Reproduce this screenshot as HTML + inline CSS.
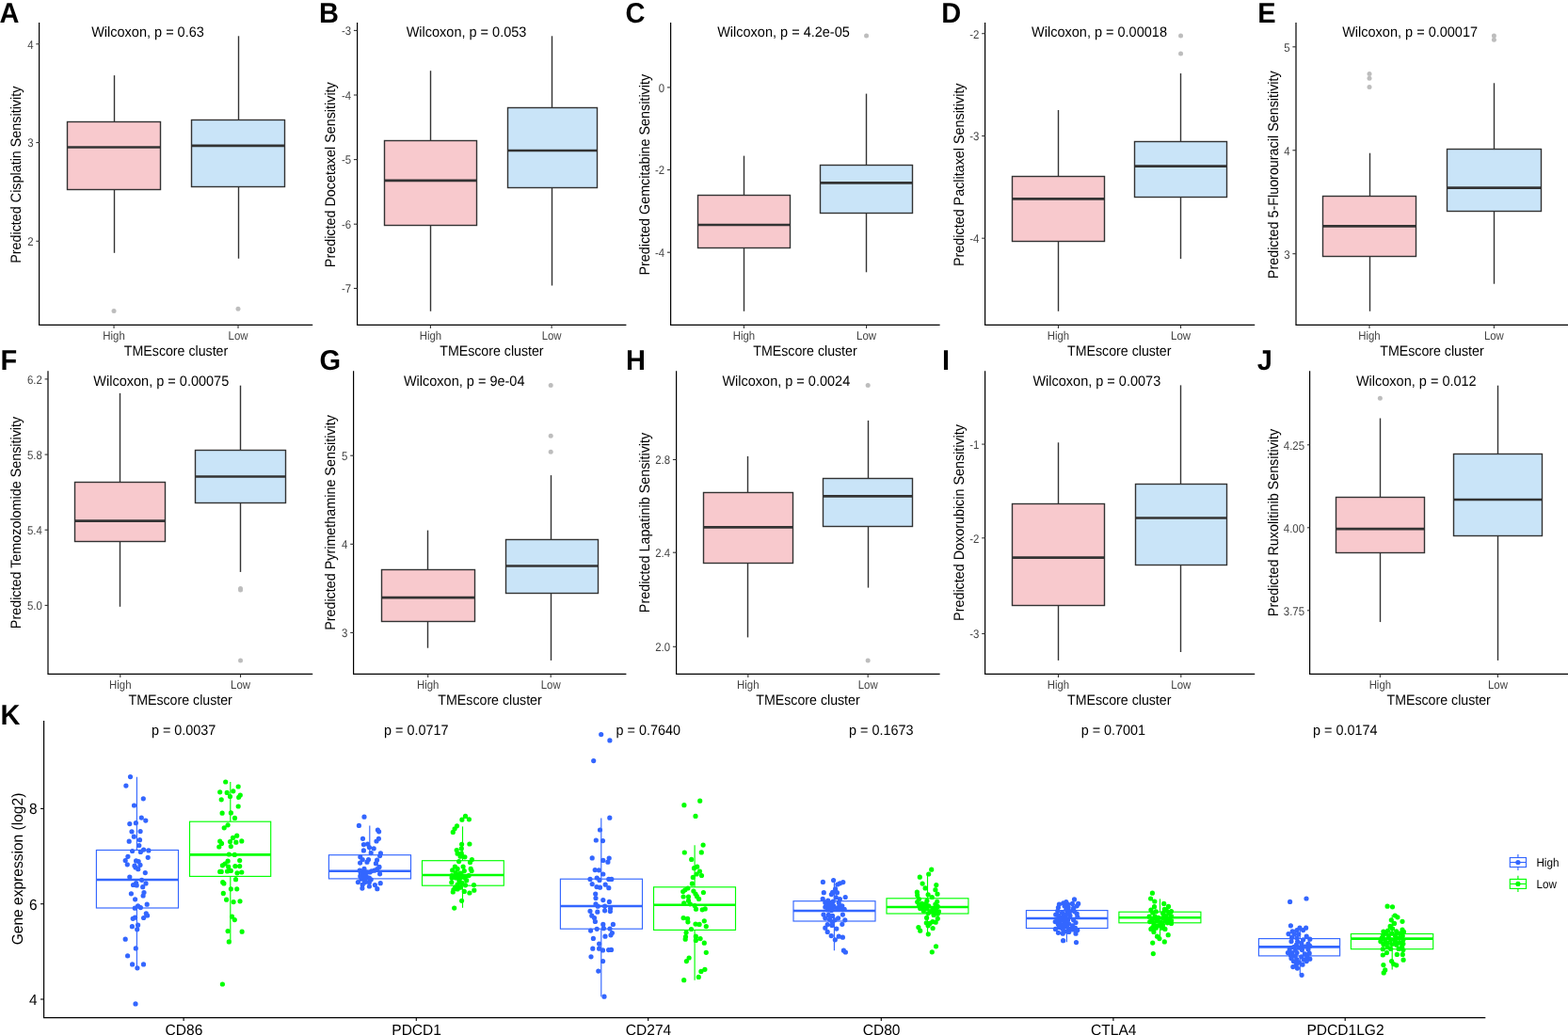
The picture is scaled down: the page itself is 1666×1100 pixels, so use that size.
<!DOCTYPE html>
<html lang="en">
<head>
<meta charset="utf-8">
<title>Predicted drug sensitivity and immune checkpoint expression by TMEscore cluster</title>
<style>
html,body{margin:0;padding:0;background:#fff;}
body{width:1666px;height:1100px;overflow:hidden;}
svg{display:block;font-family:"Liberation Sans", sans-serif;text-rendering:geometricPrecision;}
.tk{font-size:11.4px;fill:#424242;}
.at{font-size:14.2px;fill:#000;}
.yt{font-size:14.35px;fill:#000;}
.st{font-size:14.5px;fill:#000;}
.pl{font-size:29px;font-weight:bold;fill:#000;}
.kt{font-size:15.4px;fill:#000;text-rendering:geometricPrecision;}
.ky{font-size:15.55px;fill:#000;text-rendering:geometricPrecision;}
.kg{font-size:15.55px;fill:#000;text-rendering:geometricPrecision;}
.kp{font-size:14.4px;fill:#000;}
.lg{font-size:11.7px;fill:#000;}
</style>
</head>
<body>
<svg width="1666" height="1100" viewBox="0 0 1666 1100">
<rect width="1666" height="1100" fill="#fff"/>
<g>
<line x1="121.5" y1="80.1" x2="121.5" y2="129.5" stroke="#333333" stroke-width="1.4"/>
<line x1="121.5" y1="201.5" x2="121.5" y2="268.8" stroke="#333333" stroke-width="1.4"/>
<rect x="71.5" y="129.5" width="99" height="72" fill="#F8C9CD" stroke="#333333" stroke-width="1.4"/>
<line x1="71.5" y1="156.5" x2="170.5" y2="156.5" stroke="#333333" stroke-width="2.7"/>
<circle cx="121.04" cy="330.4" r="2.5" fill="#BDBDBD"/>
<line x1="253.5" y1="38.3" x2="253.5" y2="127.5" stroke="#333333" stroke-width="1.4"/>
<line x1="253.5" y1="198.5" x2="253.5" y2="274.8" stroke="#333333" stroke-width="1.4"/>
<rect x="203.5" y="127.5" width="99" height="71" fill="#C9E4F8" stroke="#333333" stroke-width="1.4"/>
<line x1="203.5" y1="154.9" x2="302.5" y2="154.9" stroke="#333333" stroke-width="2.7"/>
<circle cx="253.01" cy="328.3" r="2.5" fill="#BDBDBD"/>
<path d="M41.6 24V345.45H332.2" fill="none" stroke="#000" stroke-width="1.2"/>
<line x1="38.35" y1="46.8" x2="41.85" y2="46.8" stroke="#333" stroke-width="1.1"/>
<text transform="translate(35.55 51.65) scale(1 1.11)" text-anchor="end" class="tk">4</text>
<line x1="38.35" y1="151.55" x2="41.85" y2="151.55" stroke="#333" stroke-width="1.1"/>
<text transform="translate(35.55 156.4) scale(1 1.11)" text-anchor="end" class="tk">3</text>
<line x1="38.35" y1="256.3" x2="41.85" y2="256.3" stroke="#333" stroke-width="1.1"/>
<text transform="translate(35.55 261.15) scale(1 1.11)" text-anchor="end" class="tk">2</text>
<line x1="121.04" y1="345.45" x2="121.04" y2="348.95" stroke="#333" stroke-width="1.1"/>
<text transform="translate(121.04 361) scale(1 1.11)" text-anchor="middle" class="tk">High</text>
<line x1="253.01" y1="345.45" x2="253.01" y2="348.95" stroke="#333" stroke-width="1.1"/>
<text transform="translate(253.01 361) scale(1 1.11)" text-anchor="middle" class="tk">Low</text>
<text transform="translate(187.03 377.8) scale(1 1.075)" text-anchor="middle" class="at">TMEscore cluster</text>
<text transform="translate(22.1 185.72) rotate(-90) scale(1 1.065)" text-anchor="middle" class="yt">Predicted Cisplatin Sensitivity</text>
<text transform="translate(157 39) scale(1 1.05)" text-anchor="middle" class="st">Wilcoxon, p = 0.63</text>
<text transform="translate(-0.6 24.4) scale(1 1.04)" class="pl">A</text>
</g>
<g>
<line x1="457.5" y1="75.2" x2="457.5" y2="149.5" stroke="#333333" stroke-width="1.4"/>
<line x1="457.5" y1="239.5" x2="457.5" y2="330.8" stroke="#333333" stroke-width="1.4"/>
<rect x="408.5" y="149.5" width="98" height="90" fill="#F8C9CD" stroke="#333333" stroke-width="1.4"/>
<line x1="408.5" y1="191.8" x2="506.5" y2="191.8" stroke="#333333" stroke-width="2.7"/>
<line x1="586.5" y1="38.3" x2="586.5" y2="114.5" stroke="#333333" stroke-width="1.4"/>
<line x1="586.5" y1="199.5" x2="586.5" y2="303.5" stroke="#333333" stroke-width="1.4"/>
<rect x="539.5" y="114.5" width="95" height="85" fill="#C9E4F8" stroke="#333333" stroke-width="1.4"/>
<line x1="539.5" y1="160" x2="634.5" y2="160" stroke="#333333" stroke-width="2.7"/>
<path d="M379.6 24V345.45H665.4" fill="none" stroke="#000" stroke-width="1.2"/>
<line x1="375.9" y1="32.4" x2="379.4" y2="32.4" stroke="#333" stroke-width="1.1"/>
<text transform="translate(373.1 37.25) scale(1 1.11)" text-anchor="end" class="tk">-3</text>
<line x1="375.9" y1="101" x2="379.4" y2="101" stroke="#333" stroke-width="1.1"/>
<text transform="translate(373.1 105.85) scale(1 1.11)" text-anchor="end" class="tk">-4</text>
<line x1="375.9" y1="169.6" x2="379.4" y2="169.6" stroke="#333" stroke-width="1.1"/>
<text transform="translate(373.1 174.45) scale(1 1.11)" text-anchor="end" class="tk">-5</text>
<line x1="375.9" y1="238.2" x2="379.4" y2="238.2" stroke="#333" stroke-width="1.1"/>
<text transform="translate(373.1 243.05) scale(1 1.11)" text-anchor="end" class="tk">-6</text>
<line x1="375.9" y1="306.5" x2="379.4" y2="306.5" stroke="#333" stroke-width="1.1"/>
<text transform="translate(373.1 311.35) scale(1 1.11)" text-anchor="end" class="tk">-7</text>
<line x1="457.4" y1="345.45" x2="457.4" y2="348.95" stroke="#333" stroke-width="1.1"/>
<text transform="translate(457.4 361) scale(1 1.11)" text-anchor="middle" class="tk">High</text>
<line x1="586.1" y1="345.45" x2="586.1" y2="348.95" stroke="#333" stroke-width="1.1"/>
<text transform="translate(586.1 361) scale(1 1.11)" text-anchor="middle" class="tk">Low</text>
<text transform="translate(522.4 377.8) scale(1 1.075)" text-anchor="middle" class="at">TMEscore cluster</text>
<text transform="translate(355.9 185.72) rotate(-90) scale(1 1.065)" text-anchor="middle" class="yt">Predicted Docetaxel Sensitivity</text>
<text transform="translate(495.5 39) scale(1 1.05)" text-anchor="middle" class="st">Wilcoxon, p = 0.053</text>
<text transform="translate(338.88 24.4) scale(1 1.04)" class="pl">B</text>
</g>
<g>
<line x1="790.5" y1="165.6" x2="790.5" y2="207.5" stroke="#333333" stroke-width="1.4"/>
<line x1="790.5" y1="263.5" x2="790.5" y2="330.8" stroke="#333333" stroke-width="1.4"/>
<rect x="741.5" y="207.5" width="98" height="56" fill="#F8C9CD" stroke="#333333" stroke-width="1.4"/>
<line x1="741.5" y1="239" x2="839.5" y2="239" stroke="#333333" stroke-width="2.7"/>
<line x1="920.5" y1="99.6" x2="920.5" y2="175.5" stroke="#333333" stroke-width="1.4"/>
<line x1="920.5" y1="226.5" x2="920.5" y2="289.3" stroke="#333333" stroke-width="1.4"/>
<rect x="871.5" y="175.5" width="98" height="51" fill="#C9E4F8" stroke="#333333" stroke-width="1.4"/>
<line x1="871.5" y1="194.3" x2="969.5" y2="194.3" stroke="#333333" stroke-width="2.7"/>
<circle cx="920.55" cy="37.9" r="2.5" fill="#BDBDBD"/>
<path d="M712.6 24V345.45H998.6" fill="none" stroke="#000" stroke-width="1.2"/>
<line x1="708.9" y1="92.9" x2="712.4" y2="92.9" stroke="#333" stroke-width="1.1"/>
<text transform="translate(706.1 97.75) scale(1 1.11)" text-anchor="end" class="tk">0</text>
<line x1="708.9" y1="180.55" x2="712.4" y2="180.55" stroke="#333" stroke-width="1.1"/>
<text transform="translate(706.1 185.4) scale(1 1.11)" text-anchor="end" class="tk">-2</text>
<line x1="708.9" y1="268.2" x2="712.4" y2="268.2" stroke="#333" stroke-width="1.1"/>
<text transform="translate(706.1 273.05) scale(1 1.11)" text-anchor="end" class="tk">-4</text>
<line x1="790.45" y1="345.45" x2="790.45" y2="348.95" stroke="#333" stroke-width="1.1"/>
<text transform="translate(790.45 361) scale(1 1.11)" text-anchor="middle" class="tk">High</text>
<line x1="920.55" y1="345.45" x2="920.55" y2="348.95" stroke="#333" stroke-width="1.1"/>
<text transform="translate(920.55 361) scale(1 1.11)" text-anchor="middle" class="tk">Low</text>
<text transform="translate(855.5 377.8) scale(1 1.075)" text-anchor="middle" class="at">TMEscore cluster</text>
<text transform="translate(689.6 185.72) rotate(-90) scale(1 1.065)" text-anchor="middle" class="yt">Predicted Gemcitabine Sensitivity</text>
<text transform="translate(832.5 39) scale(1 1.05)" text-anchor="middle" class="st">Wilcoxon, p = 4.2e-05</text>
<text transform="translate(664.41 24.4) scale(1 1.04)" class="pl">C</text>
</g>
<g>
<line x1="1124.5" y1="117" x2="1124.5" y2="187.5" stroke="#333333" stroke-width="1.4"/>
<line x1="1124.5" y1="256.5" x2="1124.5" y2="330.8" stroke="#333333" stroke-width="1.4"/>
<rect x="1075.5" y="187.5" width="98" height="69" fill="#F8C9CD" stroke="#333333" stroke-width="1.4"/>
<line x1="1075.5" y1="211.3" x2="1173.5" y2="211.3" stroke="#333333" stroke-width="2.7"/>
<line x1="1254.5" y1="78" x2="1254.5" y2="150.5" stroke="#333333" stroke-width="1.4"/>
<line x1="1254.5" y1="209.5" x2="1254.5" y2="275.1" stroke="#333333" stroke-width="1.4"/>
<rect x="1205.5" y="150.5" width="98" height="59" fill="#C9E4F8" stroke="#333333" stroke-width="1.4"/>
<line x1="1205.5" y1="176.7" x2="1303.5" y2="176.7" stroke="#333333" stroke-width="2.7"/>
<circle cx="1254.55" cy="37.9" r="2.5" fill="#BDBDBD"/>
<circle cx="1254.55" cy="57.1" r="2.5" fill="#BDBDBD"/>
<path d="M1046.6 24V345.45H1333.2" fill="none" stroke="#000" stroke-width="1.2"/>
<line x1="1043.2" y1="35.7" x2="1046.7" y2="35.7" stroke="#333" stroke-width="1.1"/>
<text transform="translate(1040.4 40.55) scale(1 1.11)" text-anchor="end" class="tk">-2</text>
<line x1="1043.2" y1="144.45" x2="1046.7" y2="144.45" stroke="#333" stroke-width="1.1"/>
<text transform="translate(1040.4 149.3) scale(1 1.11)" text-anchor="end" class="tk">-3</text>
<line x1="1043.2" y1="253.2" x2="1046.7" y2="253.2" stroke="#333" stroke-width="1.1"/>
<text transform="translate(1040.4 258.05) scale(1 1.11)" text-anchor="end" class="tk">-4</text>
<line x1="1124.45" y1="345.45" x2="1124.45" y2="348.95" stroke="#333" stroke-width="1.1"/>
<text transform="translate(1124.45 361) scale(1 1.11)" text-anchor="middle" class="tk">High</text>
<line x1="1254.55" y1="345.45" x2="1254.55" y2="348.95" stroke="#333" stroke-width="1.1"/>
<text transform="translate(1254.55 361) scale(1 1.11)" text-anchor="middle" class="tk">Low</text>
<text transform="translate(1189.25 377.8) scale(1 1.075)" text-anchor="middle" class="at">TMEscore cluster</text>
<text transform="translate(1023.6 185.72) rotate(-90) scale(1 1.065)" text-anchor="middle" class="yt">Predicted Paclitaxel Sensitivity</text>
<text transform="translate(1168 39) scale(1 1.05)" text-anchor="middle" class="st">Wilcoxon, p = 0.00018</text>
<text transform="translate(1000.26 24.4) scale(1 1.04)" class="pl">D</text>
</g>
<g>
<line x1="1455.5" y1="162.7" x2="1455.5" y2="208.5" stroke="#333333" stroke-width="1.4"/>
<line x1="1455.5" y1="272.5" x2="1455.5" y2="330.8" stroke="#333333" stroke-width="1.4"/>
<rect x="1405.5" y="208.5" width="99" height="64" fill="#F8C9CD" stroke="#333333" stroke-width="1.4"/>
<line x1="1405.5" y1="240.3" x2="1504.5" y2="240.3" stroke="#333333" stroke-width="2.7"/>
<circle cx="1455" cy="78.4" r="2.5" fill="#BDBDBD"/>
<circle cx="1455" cy="83.3" r="2.5" fill="#BDBDBD"/>
<circle cx="1455" cy="92.5" r="2.5" fill="#BDBDBD"/>
<line x1="1587.5" y1="88.3" x2="1587.5" y2="158.5" stroke="#333333" stroke-width="1.4"/>
<line x1="1587.5" y1="224.5" x2="1587.5" y2="301.7" stroke="#333333" stroke-width="1.4"/>
<rect x="1537.5" y="158.5" width="100" height="66" fill="#C9E4F8" stroke="#333333" stroke-width="1.4"/>
<line x1="1537.5" y1="199.7" x2="1637.5" y2="199.7" stroke="#333333" stroke-width="2.7"/>
<circle cx="1587.4" cy="37.9" r="2.5" fill="#BDBDBD"/>
<circle cx="1587.4" cy="42.2" r="2.5" fill="#BDBDBD"/>
<path d="M1377 24V345.45H1666" fill="none" stroke="#000" stroke-width="1.2"/>
<line x1="1373.4" y1="49.8" x2="1376.9" y2="49.8" stroke="#333" stroke-width="1.1"/>
<text transform="translate(1370.6 54.65) scale(1 1.11)" text-anchor="end" class="tk">5</text>
<line x1="1373.4" y1="159.75" x2="1376.9" y2="159.75" stroke="#333" stroke-width="1.1"/>
<text transform="translate(1370.6 164.6) scale(1 1.11)" text-anchor="end" class="tk">4</text>
<line x1="1373.4" y1="269.7" x2="1376.9" y2="269.7" stroke="#333" stroke-width="1.1"/>
<text transform="translate(1370.6 274.55) scale(1 1.11)" text-anchor="end" class="tk">3</text>
<line x1="1455" y1="345.45" x2="1455" y2="348.95" stroke="#333" stroke-width="1.1"/>
<text transform="translate(1455 361) scale(1 1.11)" text-anchor="middle" class="tk">High</text>
<line x1="1587.4" y1="345.45" x2="1587.4" y2="348.95" stroke="#333" stroke-width="1.1"/>
<text transform="translate(1587.4 361) scale(1 1.11)" text-anchor="middle" class="tk">Low</text>
<text transform="translate(1521.45 377.8) scale(1 1.075)" text-anchor="middle" class="at">TMEscore cluster</text>
<text transform="translate(1357.5 185.72) rotate(-90) scale(1 1.065)" text-anchor="middle" class="yt">Predicted 5-Fluorouracil Sensitivity</text>
<text transform="translate(1498.1 39) scale(1 1.05)" text-anchor="middle" class="st">Wilcoxon, p = 0.00017</text>
<text transform="translate(1336.13 24.4) scale(1 1.04)" class="pl">E</text>
</g>
<g>
<line x1="127.5" y1="417.9" x2="127.5" y2="512.5" stroke="#333333" stroke-width="1.4"/>
<line x1="127.5" y1="575.5" x2="127.5" y2="644.8" stroke="#333333" stroke-width="1.4"/>
<rect x="79.5" y="512.5" width="96" height="63" fill="#F8C9CD" stroke="#333333" stroke-width="1.4"/>
<line x1="79.5" y1="553.7" x2="175.5" y2="553.7" stroke="#333333" stroke-width="2.7"/>
<line x1="255.5" y1="409.7" x2="255.5" y2="478.5" stroke="#333333" stroke-width="1.4"/>
<line x1="255.5" y1="534.5" x2="255.5" y2="607.9" stroke="#333333" stroke-width="1.4"/>
<rect x="207.5" y="478.5" width="96" height="56" fill="#C9E4F8" stroke="#333333" stroke-width="1.4"/>
<line x1="207.5" y1="506.5" x2="303.5" y2="506.5" stroke="#333333" stroke-width="2.7"/>
<circle cx="255.54" cy="625.6" r="2.5" fill="#BDBDBD"/>
<circle cx="255.54" cy="627" r="2.5" fill="#BDBDBD"/>
<circle cx="255.54" cy="701.9" r="2.5" fill="#BDBDBD"/>
<path d="M51 394.3V716.45H332.2" fill="none" stroke="#000" stroke-width="1.2"/>
<line x1="47.6" y1="402.9" x2="51.1" y2="402.9" stroke="#333" stroke-width="1.1"/>
<text transform="translate(44.8 407.75) scale(1 1.11)" text-anchor="end" class="tk">6.2</text>
<line x1="47.6" y1="483.1" x2="51.1" y2="483.1" stroke="#333" stroke-width="1.1"/>
<text transform="translate(44.8 487.95) scale(1 1.11)" text-anchor="end" class="tk">5.8</text>
<line x1="47.6" y1="563.2" x2="51.1" y2="563.2" stroke="#333" stroke-width="1.1"/>
<text transform="translate(44.8 568.05) scale(1 1.11)" text-anchor="end" class="tk">5.4</text>
<line x1="47.6" y1="643.4" x2="51.1" y2="643.4" stroke="#333" stroke-width="1.1"/>
<text transform="translate(44.8 648.25) scale(1 1.11)" text-anchor="end" class="tk">5.0</text>
<line x1="127.76" y1="716.45" x2="127.76" y2="719.95" stroke="#333" stroke-width="1.1"/>
<text transform="translate(127.76 732) scale(1 1.11)" text-anchor="middle" class="tk">High</text>
<line x1="255.54" y1="716.45" x2="255.54" y2="719.95" stroke="#333" stroke-width="1.1"/>
<text transform="translate(255.54 732) scale(1 1.11)" text-anchor="middle" class="tk">Low</text>
<text transform="translate(191.65 748.8) scale(1 1.075)" text-anchor="middle" class="at">TMEscore cluster</text>
<text transform="translate(22.1 555.48) rotate(-90) scale(1 1.065)" text-anchor="middle" class="yt">Predicted Temozolomide Sensitivity</text>
<text transform="translate(171.3 410.3) scale(1 1.05)" text-anchor="middle" class="st">Wilcoxon, p = 0.00075</text>
<text transform="translate(0.46 392.6) scale(1 1.04)" class="pl">F</text>
</g>
<g>
<line x1="454.5" y1="563.6" x2="454.5" y2="605.5" stroke="#333333" stroke-width="1.4"/>
<line x1="454.5" y1="660.5" x2="454.5" y2="688.7" stroke="#333333" stroke-width="1.4"/>
<rect x="405.5" y="605.5" width="99" height="55" fill="#F8C9CD" stroke="#333333" stroke-width="1.4"/>
<line x1="405.5" y1="635.2" x2="504.5" y2="635.2" stroke="#333333" stroke-width="2.7"/>
<line x1="585.5" y1="505.1" x2="585.5" y2="573.5" stroke="#333333" stroke-width="1.4"/>
<line x1="585.5" y1="630.5" x2="585.5" y2="701.9" stroke="#333333" stroke-width="1.4"/>
<rect x="537.5" y="573.5" width="98" height="57" fill="#C9E4F8" stroke="#333333" stroke-width="1.4"/>
<line x1="537.5" y1="601.5" x2="635.5" y2="601.5" stroke="#333333" stroke-width="2.7"/>
<circle cx="585.2" cy="409.4" r="2.5" fill="#BDBDBD"/>
<circle cx="585.2" cy="463.2" r="2.5" fill="#BDBDBD"/>
<circle cx="585.2" cy="480.3" r="2.5" fill="#BDBDBD"/>
<path d="M375.6 394.3V716.45H665.4" fill="none" stroke="#000" stroke-width="1.2"/>
<line x1="372.2" y1="484.2" x2="375.7" y2="484.2" stroke="#333" stroke-width="1.1"/>
<text transform="translate(369.4 489.05) scale(1 1.11)" text-anchor="end" class="tk">5</text>
<line x1="372.2" y1="578.3" x2="375.7" y2="578.3" stroke="#333" stroke-width="1.1"/>
<text transform="translate(369.4 583.15) scale(1 1.11)" text-anchor="end" class="tk">4</text>
<line x1="372.2" y1="672.4" x2="375.7" y2="672.4" stroke="#333" stroke-width="1.1"/>
<text transform="translate(369.4 677.25) scale(1 1.11)" text-anchor="end" class="tk">3</text>
<line x1="454.71" y1="716.45" x2="454.71" y2="719.95" stroke="#333" stroke-width="1.1"/>
<text transform="translate(454.71 732) scale(1 1.11)" text-anchor="middle" class="tk">High</text>
<line x1="585.2" y1="716.45" x2="585.2" y2="719.95" stroke="#333" stroke-width="1.1"/>
<text transform="translate(585.2 732) scale(1 1.11)" text-anchor="middle" class="tk">Low</text>
<text transform="translate(520.55 748.8) scale(1 1.075)" text-anchor="middle" class="at">TMEscore cluster</text>
<text transform="translate(355.9 555.48) rotate(-90) scale(1 1.065)" text-anchor="middle" class="yt">Predicted Pyrimethamine Sensitivity</text>
<text transform="translate(493.2 410.3) scale(1 1.05)" text-anchor="middle" class="st">Wilcoxon, p = 9e-04</text>
<text transform="translate(339.4 392.6) scale(1 1.04)" class="pl">G</text>
</g>
<g>
<line x1="794.5" y1="484.9" x2="794.5" y2="523.5" stroke="#333333" stroke-width="1.4"/>
<line x1="794.5" y1="598.5" x2="794.5" y2="677.4" stroke="#333333" stroke-width="1.4"/>
<rect x="747.5" y="523.5" width="95" height="75" fill="#F8C9CD" stroke="#333333" stroke-width="1.4"/>
<line x1="747.5" y1="560.4" x2="842.5" y2="560.4" stroke="#333333" stroke-width="2.7"/>
<line x1="922.5" y1="446.9" x2="922.5" y2="508.5" stroke="#333333" stroke-width="1.4"/>
<line x1="922.5" y1="559.5" x2="922.5" y2="624.6" stroke="#333333" stroke-width="1.4"/>
<rect x="874.5" y="508.5" width="95" height="51" fill="#C9E4F8" stroke="#333333" stroke-width="1.4"/>
<line x1="874.5" y1="527.4" x2="969.5" y2="527.4" stroke="#333333" stroke-width="2.7"/>
<circle cx="922.18" cy="409.4" r="2.5" fill="#BDBDBD"/>
<circle cx="922.18" cy="701.9" r="2.5" fill="#BDBDBD"/>
<path d="M718.6 394.3V716.45H998.6" fill="none" stroke="#000" stroke-width="1.2"/>
<line x1="714.9" y1="488.5" x2="718.4" y2="488.5" stroke="#333" stroke-width="1.1"/>
<text transform="translate(712.1 493.35) scale(1 1.11)" text-anchor="end" class="tk">2.8</text>
<line x1="714.9" y1="587.2" x2="718.4" y2="587.2" stroke="#333" stroke-width="1.1"/>
<text transform="translate(712.1 592.05) scale(1 1.11)" text-anchor="end" class="tk">2.4</text>
<line x1="714.9" y1="687.3" x2="718.4" y2="687.3" stroke="#333" stroke-width="1.1"/>
<text transform="translate(712.1 692.15) scale(1 1.11)" text-anchor="end" class="tk">2.0</text>
<line x1="794.82" y1="716.45" x2="794.82" y2="719.95" stroke="#333" stroke-width="1.1"/>
<text transform="translate(794.82 732) scale(1 1.11)" text-anchor="middle" class="tk">High</text>
<line x1="922.18" y1="716.45" x2="922.18" y2="719.95" stroke="#333" stroke-width="1.1"/>
<text transform="translate(922.18 732) scale(1 1.11)" text-anchor="middle" class="tk">Low</text>
<text transform="translate(858.5 748.8) scale(1 1.075)" text-anchor="middle" class="at">TMEscore cluster</text>
<text transform="translate(689.6 555.48) rotate(-90) scale(1 1.065)" text-anchor="middle" class="yt">Predicted Lapatinib Sensitivity</text>
<text transform="translate(835.3 410.3) scale(1 1.05)" text-anchor="middle" class="st">Wilcoxon, p = 0.0024</text>
<text transform="translate(664.88 392.6) scale(1 1.04)" class="pl">H</text>
</g>
<g>
<line x1="1124.5" y1="470.3" x2="1124.5" y2="535.5" stroke="#333333" stroke-width="1.4"/>
<line x1="1124.5" y1="643.5" x2="1124.5" y2="701.9" stroke="#333333" stroke-width="1.4"/>
<rect x="1075.5" y="535.5" width="98" height="108" fill="#F8C9CD" stroke="#333333" stroke-width="1.4"/>
<line x1="1075.5" y1="592.7" x2="1173.5" y2="592.7" stroke="#333333" stroke-width="2.7"/>
<line x1="1254.5" y1="409.4" x2="1254.5" y2="514.5" stroke="#333333" stroke-width="1.4"/>
<line x1="1254.5" y1="600.5" x2="1254.5" y2="693" stroke="#333333" stroke-width="1.4"/>
<rect x="1206.5" y="514.5" width="97" height="86" fill="#C9E4F8" stroke="#333333" stroke-width="1.4"/>
<line x1="1206.5" y1="550.5" x2="1303.5" y2="550.5" stroke="#333333" stroke-width="2.7"/>
<path d="M1046.6 394.3V716.45H1333.2" fill="none" stroke="#000" stroke-width="1.2"/>
<line x1="1043.2" y1="472.1" x2="1046.7" y2="472.1" stroke="#333" stroke-width="1.1"/>
<text transform="translate(1040.4 476.95) scale(1 1.11)" text-anchor="end" class="tk">-1</text>
<line x1="1043.2" y1="571.8" x2="1046.7" y2="571.8" stroke="#333" stroke-width="1.1"/>
<text transform="translate(1040.4 576.65) scale(1 1.11)" text-anchor="end" class="tk">-2</text>
<line x1="1043.2" y1="673.5" x2="1046.7" y2="673.5" stroke="#333" stroke-width="1.1"/>
<text transform="translate(1040.4 678.35) scale(1 1.11)" text-anchor="end" class="tk">-3</text>
<line x1="1124.45" y1="716.45" x2="1124.45" y2="719.95" stroke="#333" stroke-width="1.1"/>
<text transform="translate(1124.45 732) scale(1 1.11)" text-anchor="middle" class="tk">High</text>
<line x1="1254.8" y1="716.45" x2="1254.8" y2="719.95" stroke="#333" stroke-width="1.1"/>
<text transform="translate(1254.8 732) scale(1 1.11)" text-anchor="middle" class="tk">Low</text>
<text transform="translate(1189.25 748.8) scale(1 1.075)" text-anchor="middle" class="at">TMEscore cluster</text>
<text transform="translate(1023.6 555.48) rotate(-90) scale(1 1.065)" text-anchor="middle" class="yt">Predicted Doxorubicin Sensitivity</text>
<text transform="translate(1165.3 410.3) scale(1 1.05)" text-anchor="middle" class="st">Wilcoxon, p = 0.0073</text>
<text transform="translate(1001.06 392.6) scale(1 1.04)" class="pl">I</text>
</g>
<g>
<line x1="1466.5" y1="444.5" x2="1466.5" y2="528.5" stroke="#333333" stroke-width="1.4"/>
<line x1="1466.5" y1="587.5" x2="1466.5" y2="661.1" stroke="#333333" stroke-width="1.4"/>
<rect x="1419.5" y="528.5" width="94" height="59" fill="#F8C9CD" stroke="#333333" stroke-width="1.4"/>
<line x1="1419.5" y1="562.2" x2="1513.5" y2="562.2" stroke="#333333" stroke-width="2.7"/>
<circle cx="1466.35" cy="423.2" r="2.5" fill="#BDBDBD"/>
<line x1="1591.5" y1="409.7" x2="1591.5" y2="482.5" stroke="#333333" stroke-width="1.4"/>
<line x1="1591.5" y1="569.5" x2="1591.5" y2="701.9" stroke="#333333" stroke-width="1.4"/>
<rect x="1544.5" y="482.5" width="94" height="87" fill="#C9E4F8" stroke="#333333" stroke-width="1.4"/>
<line x1="1544.5" y1="531" x2="1638.5" y2="531" stroke="#333333" stroke-width="2.7"/>
<path d="M1391.6 394.3V716.45H1666" fill="none" stroke="#000" stroke-width="1.2"/>
<line x1="1389" y1="472.8" x2="1391.3" y2="472.8" stroke="#333" stroke-width="1.1"/>
<text transform="translate(1386 477.65) scale(1 1.11)" text-anchor="end" class="tk">4.25</text>
<line x1="1389" y1="560.8" x2="1391.3" y2="560.8" stroke="#333" stroke-width="1.1"/>
<text transform="translate(1386 565.65) scale(1 1.11)" text-anchor="end" class="tk">4.00</text>
<line x1="1389" y1="648.8" x2="1391.3" y2="648.8" stroke="#333" stroke-width="1.1"/>
<text transform="translate(1386 653.65) scale(1 1.11)" text-anchor="end" class="tk">3.75</text>
<line x1="1466.35" y1="716.45" x2="1466.35" y2="719.95" stroke="#333" stroke-width="1.1"/>
<text transform="translate(1466.35 732) scale(1 1.11)" text-anchor="middle" class="tk">High</text>
<line x1="1591.45" y1="716.45" x2="1591.45" y2="719.95" stroke="#333" stroke-width="1.1"/>
<text transform="translate(1591.45 732) scale(1 1.11)" text-anchor="middle" class="tk">Low</text>
<text transform="translate(1528.65 748.8) scale(1 1.075)" text-anchor="middle" class="at">TMEscore cluster</text>
<text transform="translate(1357.5 555.48) rotate(-90) scale(1 1.065)" text-anchor="middle" class="yt">Predicted Ruxolitinib Sensitivity</text>
<text transform="translate(1504.8 410.3) scale(1 1.05)" text-anchor="middle" class="st">Wilcoxon, p = 0.012</text>
<text transform="translate(1335.67 392.6) scale(1 1.04)" class="pl">J</text>
</g>
<g>
<line x1="145.4" y1="825.8" x2="145.4" y2="903.5" stroke="#3366FF" stroke-width="1.15"/>
<line x1="145.4" y1="965" x2="145.4" y2="1028.8" stroke="#3366FF" stroke-width="1.15"/>
<rect x="102.4" y="903.5" width="87.1" height="61.5" fill="#fff" stroke="#3366FF" stroke-width="1.15"/>
<line x1="102.4" y1="935" x2="189.5" y2="935" stroke="#3366FF" stroke-width="2.6"/>
<line x1="244.8" y1="831" x2="244.8" y2="873.2" stroke="#00FF00" stroke-width="1.15"/>
<line x1="244.8" y1="931.4" x2="244.8" y2="1001.2" stroke="#00FF00" stroke-width="1.15"/>
<rect x="201.5" y="873.2" width="86.2" height="58.2" fill="#fff" stroke="#00FF00" stroke-width="1.15"/>
<line x1="201.5" y1="908.4" x2="287.7" y2="908.4" stroke="#00FF00" stroke-width="2.6"/>
<line x1="392.8" y1="877.4" x2="392.8" y2="908.7" stroke="#3366FF" stroke-width="1.15"/>
<line x1="392.8" y1="933.9" x2="392.8" y2="943.8" stroke="#3366FF" stroke-width="1.15"/>
<rect x="349.4" y="908.7" width="87.1" height="25.2" fill="#fff" stroke="#3366FF" stroke-width="1.15"/>
<line x1="349.4" y1="925.8" x2="436.5" y2="925.8" stroke="#3366FF" stroke-width="2.6"/>
<line x1="491.5" y1="878.4" x2="491.5" y2="914.7" stroke="#00FF00" stroke-width="1.15"/>
<line x1="491.5" y1="941.2" x2="491.5" y2="964.8" stroke="#00FF00" stroke-width="1.15"/>
<rect x="448.5" y="914.7" width="86.8" height="26.5" fill="#fff" stroke="#00FF00" stroke-width="1.15"/>
<line x1="448.5" y1="930" x2="535.3" y2="930" stroke="#00FF00" stroke-width="2.6"/>
<line x1="638.8" y1="869.4" x2="638.8" y2="934.2" stroke="#3366FF" stroke-width="1.15"/>
<line x1="638.8" y1="987.2" x2="638.8" y2="1059.2" stroke="#3366FF" stroke-width="1.15"/>
<rect x="595.4" y="934.2" width="87.1" height="53" fill="#fff" stroke="#3366FF" stroke-width="1.15"/>
<line x1="595.4" y1="963" x2="682.5" y2="963" stroke="#3366FF" stroke-width="2.6"/>
<line x1="738.1" y1="898.2" x2="738.1" y2="942.8" stroke="#00FF00" stroke-width="1.15"/>
<line x1="738.1" y1="988.4" x2="738.1" y2="1041.8" stroke="#00FF00" stroke-width="1.15"/>
<rect x="694.5" y="942.8" width="87" height="45.6" fill="#fff" stroke="#00FF00" stroke-width="1.15"/>
<line x1="694.5" y1="961.8" x2="781.5" y2="961.8" stroke="#00FF00" stroke-width="2.6"/>
<line x1="886.4" y1="935.8" x2="886.4" y2="957.7" stroke="#3366FF" stroke-width="1.15"/>
<line x1="886.4" y1="979" x2="886.4" y2="1010.2" stroke="#3366FF" stroke-width="1.15"/>
<rect x="843" y="957.7" width="87" height="21.3" fill="#fff" stroke="#3366FF" stroke-width="1.15"/>
<line x1="843" y1="968" x2="930" y2="968" stroke="#3366FF" stroke-width="2.6"/>
<line x1="985.5" y1="928.6" x2="985.5" y2="954.8" stroke="#00FF00" stroke-width="1.15"/>
<line x1="985.5" y1="971" x2="985.5" y2="992.8" stroke="#00FF00" stroke-width="1.15"/>
<rect x="942" y="954.8" width="86.9" height="16.2" fill="#fff" stroke="#00FF00" stroke-width="1.15"/>
<line x1="942" y1="964" x2="1028.9" y2="964" stroke="#00FF00" stroke-width="2.6"/>
<line x1="1133.4" y1="956.8" x2="1133.4" y2="967.6" stroke="#3366FF" stroke-width="1.15"/>
<line x1="1133.4" y1="986.5" x2="1133.4" y2="1001.2" stroke="#3366FF" stroke-width="1.15"/>
<rect x="1090.4" y="967.6" width="86.5" height="18.9" fill="#fff" stroke="#3366FF" stroke-width="1.15"/>
<line x1="1090.4" y1="976" x2="1176.9" y2="976" stroke="#3366FF" stroke-width="2.6"/>
<line x1="1232.5" y1="955.3" x2="1232.5" y2="969.2" stroke="#00FF00" stroke-width="1.15"/>
<line x1="1232.5" y1="980.8" x2="1232.5" y2="997" stroke="#00FF00" stroke-width="1.15"/>
<rect x="1188.9" y="969.2" width="87" height="11.6" fill="#fff" stroke="#00FF00" stroke-width="1.15"/>
<line x1="1188.9" y1="975.2" x2="1275.9" y2="975.2" stroke="#00FF00" stroke-width="2.6"/>
<line x1="1381.3" y1="986.2" x2="1381.3" y2="997.6" stroke="#3366FF" stroke-width="1.15"/>
<line x1="1381.3" y1="1015.9" x2="1381.3" y2="1036" stroke="#3366FF" stroke-width="1.15"/>
<rect x="1337.4" y="997.6" width="86.2" height="18.3" fill="#fff" stroke="#3366FF" stroke-width="1.15"/>
<line x1="1337.4" y1="1006.4" x2="1423.6" y2="1006.4" stroke="#3366FF" stroke-width="2.6"/>
<line x1="1479.2" y1="972.4" x2="1479.2" y2="992.5" stroke="#00FF00" stroke-width="1.15"/>
<line x1="1479.2" y1="1008.7" x2="1479.2" y2="1030.6" stroke="#00FF00" stroke-width="1.15"/>
<rect x="1435.4" y="992.5" width="87.3" height="16.2" fill="#fff" stroke="#00FF00" stroke-width="1.15"/>
<line x1="1435.4" y1="997.6" x2="1522.7" y2="997.6" stroke="#00FF00" stroke-width="2.6"/>
<path d="M138.5 825.6h0M133.9 835.1h0M152.3 848.8h0M142.5 856h0M150.3 869.1h0M154.8 872.1h0M144.4 874.7h0M137.8 875.6h0M140 883.8h0M149.1 883.6h0M142.3 889.2h0M148.5 892.7h0M137.2 894.2h0M147.8 898.5h0M140.6 904.5h0M149.4 905.4h0M152.6 903.1h0M157.9 903.9h0M135.9 910.3h0M157.2 911.3h0M133.2 914.5h0M144.6 914.9h0M147.2 915.5h0M135.3 918.8h0M149 919.3h0M143 920.2h0M144.1 922h0M146.8 923.7h0M154.3 927.6h0M137.8 932h0M150.6 935.3h0M155 938.9h0M144.6 938.5h0M141.5 940.5h0M145.2 940.9h0M151.7 942.7h0M139.4 949.8h0M153 948.6h0M152.1 952h0M143.6 955.8h0M156.2 961.2h0M146.6 962.8h0M149.4 964.6h0M143.3 965.2h0M155.3 970.9h0M156.6 973h0M143.6 975.2h0M141.2 976.3h0M152.6 975.5h0M146.6 983.2h0M140.4 984.7h0M145.7 987.8h0M133.2 998.2h0M144.3 1007.9h0M135.6 1015.9h0M140.6 1024.9h0M152.5 1024.9h0M145.9 1028.8h0M144 1066.9h0" stroke="#3366FF" stroke-width="5.2" stroke-linecap="round" fill="none"/>
<path d="M239.7 831h0M253.2 836h0M233.7 841.8h0M241.2 842.4h0M247.8 840.8h0M244.5 846.5h0M255.3 845h0M253.7 847.4h0M235.2 849.8h0M253.2 857h0M236.1 864.2h0M245.4 863.9h0M249.5 869.4h0M242.1 876.8h0M238.2 879.8h0M251.7 888.2h0M247.5 890.4h0M233.7 894h0M244.5 894.5h0M256.8 893.9h0M250.8 895.2h0M235.5 896.4h0M232.8 900h0M245.3 899.6h0M243.3 908h0M249.3 908.4h0M254.7 914.6h0M242.1 915.2h0M239.1 918h0M236.4 919.8h0M242.7 921.2h0M249.9 920.6h0M254.7 920.6h0M233.7 926.4h0M235.2 926.4h0M241.5 926h0M245.3 925.4h0M252 927.8h0M256.8 927h0M250.5 934.7h0M236.7 937.7h0M237.9 938.9h0M245.4 944.8h0M251.7 944.8h0M237.3 949.4h0M240.6 956.2h0M248.1 958.6h0M255 957.8h0M246.5 974.2h0M249.3 977.6h0M242.1 989.6h0M257.1 990.2h0M243.3 1000.9h0M236.4 1046h0" stroke="#00FF00" stroke-width="5.2" stroke-linecap="round" fill="none"/>
<path d="M387 868.2h0M381.4 877.4h0M401.4 882h0M402.6 883.8h0M385.5 891.3h0M402.4 891.3h0M400 894h0M386.4 897.6h0M390.6 897h0M392.4 900.6h0M397.2 901.8h0M386.4 903.9h0M394.2 906.6h0M404.4 906.9h0M403.6 909.6h0M382.8 910.8h0M385.2 913.5h0M391.5 913.5h0M400.6 914.1h0M390 916.2h0M382.6 917.1h0M399.4 917.7h0M403 921.4h0M387 923.4h0M400.8 923.7h0M382.2 925.2h0M385.2 925.8h0M394.8 925.8h0M397.8 925.2h0M390 927h0M393 927h0M383.4 928.2h0M387.6 928.8h0M403.6 928.8h0M382.8 931.2h0M385.8 931.8h0M389.4 931.8h0M392.4 933h0M384 934.2h0M388.2 934.8h0M394.2 934.8h0M380.4 937.6h0M387.6 937.8h0M392.4 937.8h0M404.2 938.7h0M385.2 940.2h0M398.4 940.6h0M392.4 942h0M384.9 944.1h0M400.8 944.7h0" stroke="#3366FF" stroke-width="5.2" stroke-linecap="round" fill="none"/>
<path d="M494.5 867.4h0M490.9 871.2h0M498.4 870.8h0M485.5 877.8h0M483.1 880.8h0M481.3 884.4h0M490.6 897.3h0M498.9 897h0M490.3 901.8h0M485.2 903.6h0M486.1 907.2h0M490.3 907.2h0M489.1 910.2h0M493.9 910.8h0M501.4 913.5h0M487.6 915.6h0M499.5 916.5h0M483.4 921h0M492.1 921h0M486.1 923.4h0M500.2 923.4h0M480.7 924.9h0M493.3 925.6h0M501.1 925.6h0M484.3 927.6h0M489.1 928.2h0M480.1 930.6h0M486.1 930.6h0M490.9 930.6h0M498.1 930.6h0M484.3 933h0M489.1 933h0M493.9 933h0M480.1 933h0M495.7 935.7h0M487.9 936h0M479.8 937.8h0M490.9 938.4h0M486.1 940.2h0M494.5 940.8h0M503.5 940.5h0M483.7 943.2h0M489.1 943.2h0M481.9 945.6h0M486.1 945h0M503.8 946.2h0M493.3 947.4h0M481.3 948h0M498.9 949h0M490.6 957.3h0M482.7 965.1h0" stroke="#00FF00" stroke-width="5.2" stroke-linecap="round" fill="none"/>
<path d="M638.7 780.6h0M647.9 786.9h0M630.7 808.6h0M647.8 869.2h0M637.5 882h0M633.3 893h0M640.5 893.6h0M629.2 911.9h0M647.2 912h0M640.8 914.4h0M645.9 916.2h0M632.2 924.6h0M636.4 924.8h0M640.8 929h0M627 934.4h0M634.2 933h0M637 935.4h0M646.8 934.4h0M649.8 934.4h0M629.2 939.6h0M643.2 940.2h0M634 942.6h0M637.5 943.2h0M646.8 943.7h0M632.7 950h0M633 954.6h0M640.8 956.6h0M647.4 958.4h0M633 960.8h0M635.2 963.2h0M642.6 963h0M648.6 965.6h0M642.6 967.8h0M648.4 968.6h0M627 968.3h0M634.8 969.2h0M628.8 973.2h0M631.5 975.6h0M632.4 979.4h0M640.8 982.4h0M651.4 982.4h0M634.2 987.3h0M641.4 986.7h0M648 987h0M627.6 989.1h0M650.4 991.6h0M649 993.8h0M643 995.2h0M630.4 997.4h0M636.6 1003h0M629.8 1008.2h0M636.6 1008.2h0M640.5 1009.9h0M646.6 1009.6h0M649.5 1009.4h0M628 1016.8h0M640.6 1021.6h0M635.8 1032.1h0M642 1059.2h0" stroke="#3366FF" stroke-width="5.2" stroke-linecap="round" fill="none"/>
<path d="M743.7 851.2h0M726.9 855.7h0M739 867.4h0M747.1 898.1h0M727.3 906h0M745.3 905.9h0M734.7 913.4h0M740.7 921.2h0M737.5 922.7h0M743.5 926h0M740.2 929h0M745.5 930.5h0M736.3 932.4h0M735.4 939.2h0M730.9 944h0M727.9 945.8h0M725.7 947.6h0M736.9 947h0M747.4 948.5h0M739 950h0M726.1 953h0M731.5 953h0M740.5 952.7h0M742.6 955.4h0M731.5 957.2h0M726.7 959.9h0M733.3 960.8h0M738.1 962.6h0M739.5 966.2h0M749.2 965.9h0M746.2 966.8h0M726.1 975.6h0M730.6 976.4h0M730.9 979.8h0M748.3 978.8h0M739 982.1h0M743.1 982.4h0M750.3 984.6h0M734.5 987.5h0M729.1 991h0M728.5 995.5h0M739.3 995.2h0M728.2 998.2h0M744.1 997.6h0M739.3 999.4h0M748.3 1002.2h0M750.3 1012.3h0M732.1 1018h0M729.4 1021.6h0M748.9 1030.3h0M744.9 1032.4h0M742.3 1038.4h0M726.7 1041.7h0" stroke="#00FF00" stroke-width="5.2" stroke-linecap="round" fill="none"/>
<path d="M885.6 935.5h0M874.4 937.4h0M895.8 937.6h0M892.4 938.8h0M889.8 940h0M887.6 944.8h0M875.3 948.7h0M884.6 948.4h0M889.4 948.7h0M883.4 950.6h0M898.2 953.5h0M888.2 953.8h0M874.2 955.4h0M892.4 955.6h0M879.8 957.1h0M885.2 958h0M876.8 959.2h0M881.6 959.8h0M891.2 959.2h0M878 962.2h0M882.8 962.2h0M885.8 962.8h0M891.8 962.8h0M894.8 962.8h0M876.8 964h0M881 964.6h0M884.6 965.2h0M889.4 965.2h0M893.6 965.5h0M897.2 966.4h0M879.2 967h0M883.4 967.6h0M875 972.1h0M880.4 972.4h0M884.6 973.4h0M895.4 972.1h0M876.8 975.8h0M890.6 975.8h0M881.6 977.2h0M887 977.8h0M897.8 977.8h0M884 979.6h0M879.2 982.6h0M894.8 982.3h0M884 983.5h0M876.8 986.2h0M888.8 987.1h0M879.2 990.4h0M883.2 994.6h0M891.2 995.2h0M895.4 996.2h0M887.3 998.8h0M896.4 1010.2h0M898.4 1012h0" stroke="#3366FF" stroke-width="5.2" stroke-linecap="round" fill="none"/>
<path d="M989.7 924.2h0M986.7 929h0M977.3 932.2h0M980.1 939.1h0M994.8 940.6h0M983.1 943.9h0M993.9 945.7h0M974.4 948.2h0M996 950.2h0M986.1 950.8h0M974.7 951.4h0M990.3 953.5h0M976.5 955.6h0M984.9 957.4h0M974.7 958.6h0M995.7 958.3h0M979.5 960.4h0M983.7 960.4h0M993.9 961h0M976.5 962.2h0M986.7 962.8h0M981.3 963.4h0M996.3 963.4h0M977.7 965.5h0M984.9 965.5h0M990.9 965.8h0M994.5 966.4h0M981.3 968.2h0M988.5 968.6h0M997.5 968.8h0M992.1 970h0M986.1 970.6h0M996.3 971.2h0M992.1 972.4h0M984.6 975.4h0M996.3 976.3h0M990.9 979.6h0M994.2 980.2h0M984.3 980.8h0M987.9 981.4h0M986.1 983.8h0M975.9 985.6h0M991.1 986.5h0M977.7 989.2h0M986.3 992.8h0M994.5 1005.8h0M990.3 1011.8h0" stroke="#00FF00" stroke-width="5.2" stroke-linecap="round" fill="none"/>
<path d="M1141.5 955.9h0M1132.8 958.6h0M1129.8 959.8h0M1145.7 960.4h0M1125.4 961h0M1139.4 960.4h0M1134.6 961h0M1131 962.8h0M1144.2 962.8h0M1124.4 964.6h0M1135.2 964.6h0M1140.6 965.2h0M1132.8 966.4h0M1123.8 968.2h0M1137 968.5h0M1141.8 968.8h0M1128.6 970h0M1121.7 972.1h0M1133.4 971.2h0M1144.2 971.2h0M1125 973h0M1130.4 973h0M1137 973h0M1127.4 975.4h0M1132.2 975.4h0M1144.8 974.5h0M1123.8 977.2h0M1129.2 977.8h0M1134.6 977.8h0M1140.6 977.8h0M1121.2 979.6h0M1126.2 980.2h0M1131.6 980.2h0M1143 980.5h0M1135.8 982h0M1124.4 982.6h0M1129.2 983.2h0M1139.4 983.8h0M1133.4 984.4h0M1125.6 985.6h0M1142.4 986.2h0M1121.4 987.4h0M1129.2 987.4h0M1135.8 987.4h0M1140 988h0M1144.8 988.6h0M1131.6 989.8h0M1124.4 991.3h0M1135.8 990.4h0M1129.2 992.2h0M1143 992.2h0M1129.6 999.7h0M1143.5 1001.6h0" stroke="#3366FF" stroke-width="5.2" stroke-linecap="round" fill="none"/>
<path d="M1224.4 949.2h0M1222.6 955h0M1226.8 958h0M1236.7 960.4h0M1241.5 963.4h0M1226.5 963.7h0M1222.9 967h0M1237.3 966.4h0M1228.3 968.8h0M1239.7 968.2h0M1244.5 968.5h0M1224.7 970h0M1235.5 970.6h0M1242.1 971.2h0M1221.1 974.2h0M1227.1 974.2h0M1238.5 973.6h0M1244.5 973.6h0M1230.7 975.4h0M1235.5 975.4h0M1224.7 976.6h0M1241.5 976.6h0M1228.9 978.4h0M1237.9 978.4h0M1244.5 978.4h0M1221.7 979.6h0M1233.1 980.2h0M1225.9 981.4h0M1240.3 980.8h0M1244.5 981.4h0M1235.5 983.2h0M1230.1 983.8h0M1224.7 985.6h0M1228.3 986.2h0M1234.3 986.2h0M1222.9 987.4h0M1237.9 987.4h0M1225.9 990.4h0M1241.2 993.7h0M1229.5 995.2h0M1231.9 997.6h0M1237.3 1000.9h0M1224.7 1002.1h0M1225.3 1013.6h0" stroke="#00FF00" stroke-width="5.2" stroke-linecap="round" fill="none"/>
<path d="M1388 955h0M1370.6 958.4h0M1371.4 983.8h0M1381 986.2h0M1387.6 986.2h0M1378 988.6h0M1384.6 988.6h0M1373.2 989.8h0M1369 992.6h0M1375 992.8h0M1379.8 992.8h0M1388.2 995.2h0M1372.6 996.4h0M1378 997h0M1391.8 998.2h0M1384.6 998.8h0M1372 1000.6h0M1378.6 1000.6h0M1382.8 1002.4h0M1390 1003h0M1377.4 1004.2h0M1391.8 1005.4h0M1374.4 1006.6h0M1386.4 1006h0M1380.4 1007.2h0M1370.2 1009h0M1390 1009h0M1376.2 1009.6h0M1383.4 1009.6h0M1368.4 1012.6h0M1372.6 1012.6h0M1378 1012.6h0M1391.2 1013.2h0M1386.4 1013.8h0M1371.4 1015.6h0M1376.2 1016.2h0M1382.8 1016.8h0M1388.8 1016.8h0M1372 1018.6h0M1391.8 1019.2h0M1378 1019.8h0M1385.2 1019.8h0M1374.4 1021.6h0M1388.2 1021.6h0M1380.4 1022.8h0M1384 1025.2h0M1377.4 1025.2h0M1373.8 1027.6h0M1378.4 1029.1h0M1383.1 1036.3h0" stroke="#3366FF" stroke-width="5.2" stroke-linecap="round" fill="none"/>
<path d="M1474.1 963.2h0M1479.5 963.8h0M1482.2 973h0M1484.9 974.8h0M1478.3 977.8h0M1490 979.3h0M1481.5 981.4h0M1477.1 984.4h0M1479.5 986.8h0M1490 988h0M1469.9 990.1h0M1474.7 989.2h0M1483.7 989.8h0M1491.5 990.4h0M1472.3 992.2h0M1478.9 992.2h0M1487.3 992.2h0M1469.3 994.6h0M1482.5 994.6h0M1490.3 994.6h0M1475.3 995.2h0M1468.1 997h0M1486.1 997h0M1471.7 998.8h0M1477.7 998.8h0M1490.9 998.8h0M1466.9 1000.6h0M1482.5 1000h0M1474.1 1001.8h0M1487.3 1001.8h0M1490.9 1003h0M1469.9 1003.6h0M1478.9 1003.6h0M1483.7 1004.2h0M1474.1 1006h0M1489.7 1006h0M1469.3 1008.7h0M1477.7 1008.4h0M1486.1 1008.4h0M1490.9 1009.6h0M1473.5 1012.6h0M1469.3 1015h0M1484.3 1014.4h0M1490.3 1014.4h0M1491.1 1020.2h0M1478.6 1021.6h0M1469.9 1025.6h0M1483.7 1025.8h0M1480.7 1024.6h0M1471.7 1030.9h0M1470.2 1033.9h0" stroke="#00FF00" stroke-width="5.2" stroke-linecap="round" fill="none"/>
<path d="M46.6 766V1081.6H1578.3" fill="none" stroke="#000" stroke-width="1.2"/>
<line x1="43.1" y1="859.4" x2="46.6" y2="859.4" stroke="#000" stroke-width="1.1"/>
<text transform="translate(39.6 865.2) scale(1 1.04)" text-anchor="end" class="kt">8</text>
<line x1="43.1" y1="960.7" x2="46.6" y2="960.7" stroke="#000" stroke-width="1.1"/>
<text transform="translate(39.6 966.5) scale(1 1.04)" text-anchor="end" class="kt">6</text>
<line x1="43.1" y1="1062" x2="46.6" y2="1062" stroke="#000" stroke-width="1.1"/>
<text transform="translate(39.6 1067.8) scale(1 1.04)" text-anchor="end" class="kt">4</text>
<line x1="195.1" y1="1081.6" x2="195.1" y2="1085.1" stroke="#000" stroke-width="1.1"/>
<text transform="translate(195.4 1099.9) scale(1 1.03)" text-anchor="middle" class="kg">CD86</text>
<text transform="translate(195.1 781) scale(1 1.05)" text-anchor="middle" class="kp">p = 0.0037</text>
<line x1="442.3" y1="1081.6" x2="442.3" y2="1085.1" stroke="#000" stroke-width="1.1"/>
<text transform="translate(442.6 1099.9) scale(1 1.03)" text-anchor="middle" class="kg">PDCD1</text>
<text transform="translate(442.3 781) scale(1 1.05)" text-anchor="middle" class="kp">p = 0.0717</text>
<line x1="688.7" y1="1081.6" x2="688.7" y2="1085.1" stroke="#000" stroke-width="1.1"/>
<text transform="translate(689 1099.9) scale(1 1.03)" text-anchor="middle" class="kg">CD274</text>
<text transform="translate(688.7 781) scale(1 1.05)" text-anchor="middle" class="kp">p = 0.7640</text>
<line x1="936.3" y1="1081.6" x2="936.3" y2="1085.1" stroke="#000" stroke-width="1.1"/>
<text transform="translate(936.6 1099.9) scale(1 1.03)" text-anchor="middle" class="kg">CD80</text>
<text transform="translate(936.3 781) scale(1 1.05)" text-anchor="middle" class="kp">p = 0.1673</text>
<line x1="1182.9" y1="1081.6" x2="1182.9" y2="1085.1" stroke="#000" stroke-width="1.1"/>
<text transform="translate(1183.2 1099.9) scale(1 1.03)" text-anchor="middle" class="kg">CTLA4</text>
<text transform="translate(1182.9 781) scale(1 1.05)" text-anchor="middle" class="kp">p = 0.7001</text>
<line x1="1429.2" y1="1081.6" x2="1429.2" y2="1085.1" stroke="#000" stroke-width="1.1"/>
<text transform="translate(1429.5 1099.9) scale(1 1.03)" text-anchor="middle" class="kg">PDCD1LG2</text>
<text transform="translate(1429.2 781) scale(1 1.05)" text-anchor="middle" class="kp">p = 0.0174</text>
<text transform="translate(24 923.5) rotate(-90) scale(1 1.04)" text-anchor="middle" class="ky">Gene expression (log2)</text>
<text transform="translate(0.46 770.3) scale(1 1.04)" class="pl">K</text>
<line x1="1612.9" y1="907.9" x2="1612.9" y2="925.1" stroke="#3366FF" stroke-width="1.15"/>
<rect x="1604.3" y="911.5" width="17.2" height="10" fill="#fff" stroke="#3366FF" stroke-width="1.15"/>
<line x1="1604.3" y1="916.5" x2="1621.5" y2="916.5" stroke="#3366FF" stroke-width="1.15"/>
<circle cx="1612.9" cy="916.5" r="2.6" fill="#3366FF"/>
<text transform="translate(1632.4 920.8) scale(1 1.08)" class="lg">High</text>
<line x1="1612.9" y1="930.8" x2="1612.9" y2="948" stroke="#00FF00" stroke-width="1.15"/>
<rect x="1604.3" y="934.4" width="17.2" height="10" fill="#fff" stroke="#00FF00" stroke-width="1.15"/>
<line x1="1604.3" y1="939.4" x2="1621.5" y2="939.4" stroke="#00FF00" stroke-width="1.15"/>
<circle cx="1612.9" cy="939.4" r="2.6" fill="#00FF00"/>
<text transform="translate(1632.4 943.7) scale(1 1.08)" class="lg">Low</text>
</g>
</svg>
</body>
</html>
